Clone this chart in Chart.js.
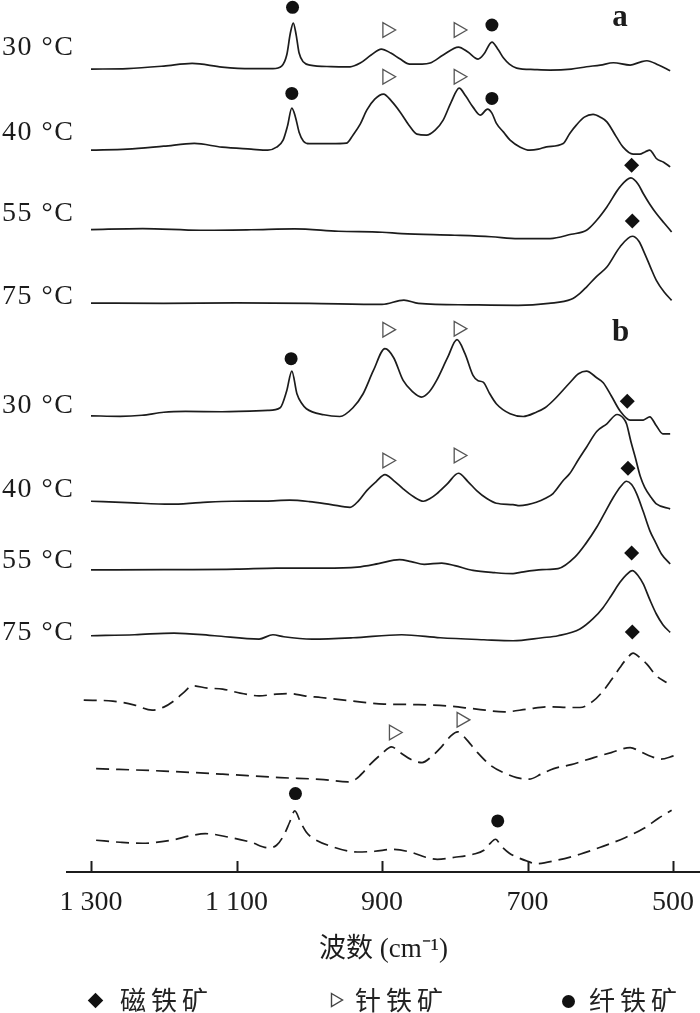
<!DOCTYPE html>
<html lang="zh">
  <head>
    <meta charset="UTF-8" />
    <title>红外光谱</title>
    <script src="https://cdn.jsdelivr.net/npm/chart.js"></script>
    <style>
      body {
        margin: 0;
        background: #fff;
      }
      .wrap {
        position: relative;
        width: 700px;
        height: 1013px;
        overflow: hidden;
      }
      .legend {
        position: absolute;
        left: 0;
        top: 982px;
        width: 700px;
        height: 34px;
        font-family: "Noto Sans CJK SC", sans-serif;
        font-size: 26px;
        color: #222;
      }
      .legend span {
        position: absolute;
        top: 0;
        line-height: 34px;
        letter-spacing: 5px;
      }
      .legend .sym {
        position: absolute;
      }
    </style>
  </head>
  <body>
    <div class="wrap">
      <canvas id="irChart" width="700" height="1013"></canvas>
      <div class="legend">
        <div class="sym" style="left: 90px; top: 13px; width: 11px; height: 11px; background: #111; transform: rotate(45deg)"></div>
        <span style="left: 120px">磁铁矿</span>
        <svg class="sym" style="left: 330px; top: 10px" width="14" height="16">
          <polygon points="1.5,1.5 12.5,8 1.5,14.5" fill="#fff" stroke="#444" stroke-width="1.4" />
        </svg>
        <span style="left: 355px">针铁矿</span>
        <div class="sym" style="left: 562px; top: 13px; width: 13px; height: 13px; border-radius: 50%; background: #111"></div>
        <span style="left: 589px">纤铁矿</span>
      </div>
    </div>

    <script>
      // x axis (wavenumber, cm-1)
      const tickValues = [1300, 1100, 900, 700, 500];
      const tickLabels = ["1 300", "1 100", "900", "700", "500"];

      // spectra: [wavenumber, intensity above own baseline] (arbitrary units)
      const a30 = [[1300, 0], [1250, 0.5], [1200, 3], [1161, 5.7], [1120, 2], [1080, 0.5], [1050, 0.5], [1038, 3], [1031, 14], [1026, 36], [1022, 46], [1018, 34], [1014, 16], [1008, 7], [999, 4], [970, 2.5], [944, 2.3], [930, 6], [915, 14], [901, 20], [888, 16], [875, 10], [862, 5], [845, 5], [834, 6], [816, 14], [795, 22], [782, 17], [768, 10], [760, 15], [749, 27], [740, 19], [733, 11], [725, 5], [715, 1], [690, -0.5], [669, -1], [640, 0], [619, 2.3], [600, 4], [582, 6.3], [559, 4], [545, 7], [536, 8.3], [520, 4], [504, -1.7]];
      const a40 = [[1300, 0], [1250, 1], [1200, 4], [1158, 6.7], [1120, 3], [1080, 1], [1057, 0], [1045, 3], [1036, 10], [1030, 24], [1024, 42], [1019, 33], [1014, 18], [1008, 9], [1000, 6.5], [970, 6.5], [949, 7], [940, 15], [930, 26], [921, 40], [910, 51], [898, 56], [887, 49], [875, 38], [863, 25], [852, 16], [839, 15], [827, 20], [816, 30], [805, 48], [794, 62], [785, 54], [775, 43], [765, 35], [755, 41], [749, 37], [743, 27], [733, 18], [724, 10], [710, 3], [697, 0], [685, 1], [674, 3.3], [651, 6.7], [642, 16.7], [633, 25], [622, 33], [610, 35.7], [600, 33], [591, 28.3], [578, 13.3], [569, 3.3], [555, -4], [546, -4], [538, -1.5], [532, 0], [527, -4], [523, -8.3], [513, -12], [504, -16.7]];
      const a55 = [[1300, 0.7], [1229, 1.7], [1150, 0], [1080, 0.5], [1020, 1.3], [960, -1], [900, -2], [873, -3.3], [800, -5], [750, -6.5], [713, -8.3], [669, -8.3], [640, -4], [619, 0], [605, 10], [591, 23.3], [573, 43.3], [558, 52.3], [548, 46], [541, 36.7], [532, 26], [523, 16.7], [512, 7], [502, -1.7]];
      const a75 = [[1300, 0.3], [1200, 0], [1100, 0.5], [1000, 0], [900, -1], [870, 3.3], [850, 0], [780, -1.5], [713, -2], [671, 0], [640, 4], [628, 10], [619, 16.3], [605, 27], [591, 36.3], [573, 56.3], [556, 67], [547, 62], [539, 49.7], [531, 36], [523, 23], [512, 11], [502, 3]];
      const b30 = [[1300, 0], [1260, -0.5], [1230, 0.5], [1200, 3.5], [1170, 4.3], [1120, 4], [1057, 5.3], [1040, 8], [1031, 25], [1024, 44.7], [1017, 22], [1010, 12], [1004, 7], [980, 1], [958, -0.7], [940, 8], [926, 22], [912, 45], [896, 67], [884, 58], [871, 35.3], [858, 24], [846, 18.7], [835, 24], [825, 35.3], [810, 58], [797, 76], [786, 62], [775, 40.3], [768, 35], [761, 33.6], [752, 22], [743, 12], [724, 2], [706, -0.7], [688, 3.6], [676, 8], [665, 15], [642, 33], [630, 42], [619, 44.6], [605, 38], [596, 33], [585, 20], [573, 5], [559, -4.3], [541, -4.3], [532, -1], [523, -10], [514, -18], [504, -18]];
      const b40 = [[1300, 0.3], [1250, -1], [1191, -2.6], [1150, -1], [1106, 0.3], [1060, 0.5], [1027, 1.4], [1000, 0], [970, -3], [944, -5.7], [932, 1], [921, 11], [908, 20], [896, 27], [884, 21], [871, 12.7], [857, 5], [843, 0.3], [834, 3], [825, 7.7], [810, 18], [795, 28.3], [782, 20], [770, 11], [756, 3], [743, -1.7], [720, -3], [711, -4], [700, -3], [688, -0.7], [676, 3], [665, 8], [651, 21], [642, 28], [630, 42], [619, 54.3], [605, 70], [591, 77.7], [577, 87], [568, 83], [564, 77.7], [558, 60], [552, 44.3], [545, 25], [539, 14.3], [530, 4], [523, -2.3], [504, -7.3]];
      const b55 = [[1300, -0.3], [1200, 0], [1100, 0.5], [1045, 1.6], [980, 1.5], [934, 2.6], [905, 6], [876, 10], [860, 8], [842, 5.3], [818, 6.6], [800, 4], [775, -0.7], [745, -3], [720, -4], [710, -2.7], [680, 0], [658, 1], [635, 12.5], [620, 26], [605, 42.3], [593, 58], [582, 72.3], [572, 83], [564, 88.3], [557, 85], [550, 75.7], [541, 58], [532, 39], [524, 27], [516, 15.7], [504, 5.7]];
      const b75 = [[1300, 0], [1240, 1], [1186, 2.7], [1130, 0], [1069, -3.3], [1050, 1], [1035, -1], [996, -3.3], [940, -2], [873, 1], [820, -2], [760, -4], [720, -5], [680, -2], [658, 0], [628, 6.7], [610, 17], [596, 28.3], [585, 40], [573, 53.3], [564, 61], [556, 65], [548, 60], [541, 51.7], [532, 36], [523, 21.7], [514, 11], [504, 3.3]];
      // reference spectra (dashed)
      const refMagnetite = [[1310, 0], [1270, -1], [1240, -5], [1216, -10], [1200, -7], [1186, -0.7], [1172, 8], [1161, 14.3], [1140, 12], [1119, 11], [1095, 7], [1069, 4.3], [1045, 6], [1027, 6.6], [1005, 4], [984, 2.6], [940, -1], [897, -4], [850, -4.5], [812, -5.7], [770, -9], [732, -11.7], [700, -9], [671, -6.7], [640, -7.4], [628, -7.4], [610, -1], [596, 9.3], [585, 20], [573, 32.6], [563, 42], [555, 47], [545, 42], [536, 36], [523, 24.3], [509, 17.6]];
      const refGoethite = [[1293, 0], [1200, -2.5], [1119, -5.6], [1040, -9], [980, -11], [947, -13.3], [935, -10], [925, -3], [916, 4.4], [900, 15], [887, 21.7], [875, 16], [860, 9], [845, 6], [832, 12], [818, 22], [805, 33], [796, 36.7], [785, 30], [770, 17], [750, 2.7], [730, -5], [715, -9], [698, -10.6], [680, -5], [664, 0], [640, 4], [609, 11], [585, 16], [559, 21], [545, 17], [530, 12], [517, 9.4], [499, 12.7]];
      const refLepidocrocite = [[1293, 0], [1260, -2], [1229, -3], [1190, 0], [1160, 5], [1143, 6.6], [1110, 3], [1080, -2], [1057, -7.4], [1045, -5], [1035, 5], [1027, 18], [1020, 29.3], [1012, 18], [1004, 8], [996, 2.6], [970, -6], [934, -11.7], [910, -11], [885, -9], [860, -12], [840, -17], [824, -19], [800, -17], [775, -14], [760, -10], [750, -2], [744, 1], [736, -6], [725, -13], [713, -17.4], [700, -21], [689, -23.4], [660, -20], [628, -14], [600, -7], [566, 2.6], [540, 12], [520, 22], [502, 30]];

      const spectra = [a30, a40, a55, a75, b30, b40, b55, b75, refMagnetite, refGoethite, refLepidocrocite];
      const spectrumOffsets = [802, 721, 641, 568, 455.7, 370, 302, 236, 171.7, 103.3, 31.7];
      const dashedSpectra = [false, false, false, false, false, false, false, false, true, true, true];

      // peak assignments: [wavenumber, height on the stacked scale]
      const magnetitePeaks = [[557, 706], [556, 650.3], [563, 470.3], [562, 403.3], [557, 318.7], [556, 239.7]];
      const goethitePeaks = [[893, 841], [795, 841], [893, 794.3], [795, 794.3], [893, 541.7], [795, 542.7], [893, 411], [795, 416], [884, 139.3], [791, 152]];
      const lepidocrocitePeaks = [[1023, 863.7], [749, 846], [1024, 777.7], [749, 772.7], [1025, 512.7], [1019, 78.3], [741, 51]];

      const tempLabels = ["30 °C", "40 °C", "55 °C", "75 °C", "30 °C", "40 °C", "55 °C", "75 °C"];
      const tempLabelY = [823, 738.5, 658, 575, 466, 382, 311.5, 239];
      const panelLetters = [["a", 573, 853], ["b", 572, 538]];

      const ink = "#1c1c1c";

      const datasets = spectra.map((s, i) => ({
        data: s.map(([wn, v]) => ({ x: wn, y: v + spectrumOffsets[i] })),
        borderColor: ink,
        borderWidth: 1.7,
        borderDash: dashedSpectra[i] ? [13, 7] : [],
        pointRadius: 0,
        cubicInterpolationMode: "monotone",
        fill: false,
        clip: false,
      }));

      const markerSet = (peaks, style) => ({
        type: "scatter",
        data: peaks.map(([wn, h]) => ({ x: wn, y: h })),
        clip: false,
        ...style,
      });
      datasets.push(
        markerSet(magnetitePeaks, { pointStyle: "rectRot", pointRadius: 7.5, backgroundColor: "#111", borderColor: "#111", borderWidth: 0 }),
        markerSet(goethitePeaks, { pointStyle: "triangle", rotation: 90, pointRadius: 8.5, backgroundColor: "#fff", borderColor: "#555", borderWidth: 1.3 }),
        markerSet(lepidocrocitePeaks, { pointStyle: "circle", pointRadius: 6.5, backgroundColor: "#111", borderColor: "#111", borderWidth: 0 })
      );

      // labels, panel letters and inward tick marks
      const annotations = {
        id: "annotations",
        afterDraw(chart) {
          const { ctx, chartArea } = chart;
          const x = chart.scales.x;
          const y = chart.scales.y;
          ctx.save();
          ctx.strokeStyle = ink;
          ctx.lineWidth = 2;
          tickValues.forEach((v) => {
            const px = Math.round(x.getPixelForValue(v)) + 0.5;
            ctx.beginPath();
            ctx.moveTo(px, chartArea.bottom);
            ctx.lineTo(px, chartArea.bottom - 11);
            ctx.stroke();
          });
          ctx.fillStyle = ink;
          ctx.textBaseline = "middle";
          ctx.font = '28px "Liberation Serif"';
          ctx.letterSpacing = "1.5px";
          tempLabels.forEach((t, i) => ctx.fillText(t, 2, y.getPixelForValue(tempLabelY[i])));
          ctx.letterSpacing = "0px";
          ctx.font = 'bold 31px "Liberation Serif"';
          ctx.textAlign = "center";
          panelLetters.forEach(([t, wn, h]) => ctx.fillText(t, x.getPixelForValue(wn), y.getPixelForValue(h)));
          ctx.restore();
        },
      };

      new Chart(document.getElementById("irChart"), {
        type: "line",
        data: { datasets },
        plugins: [annotations],
        options: {
          responsive: false,
          animation: false,
          devicePixelRatio: 1,
          layout: { autoPadding: false, padding: { left: 67, right: 0, top: 0, bottom: 47 } },
          plugins: { legend: { display: false }, tooltip: { enabled: false } },
          elements: { line: { tension: 0.4 } },
          scales: {
            x: {
              type: "linear",
              reverse: true,
              min: 463,
              max: 1333,
              afterBuildTicks: (scale) => {
                scale.ticks = tickValues.map((v) => ({ value: v }));
              },
              afterFit: (scale) => {
                scale.paddingLeft = 0;
                scale.paddingRight = 0;
              },
              grid: { display: false },
              border: { display: true, color: ink, width: 2 },
              ticks: {
                autoSkip: false,
                maxRotation: 0,
                padding: 6,
                color: ink,
                font: { family: '"Liberation Serif"', size: 28 },
                callback: (value, index) => tickLabels[index],
              },
              title: {
                display: true,
                text: "波数 (cm⁻¹)",
                color: ink,
                padding: { top: 8, bottom: 0 },
                font: { family: '"Liberation Serif", "Noto Sans CJK SC"', size: 27 },
              },
            },
            y: { display: false, min: 0, max: 871 },
          },
        },
      });
    </script>
  </body>
</html>
